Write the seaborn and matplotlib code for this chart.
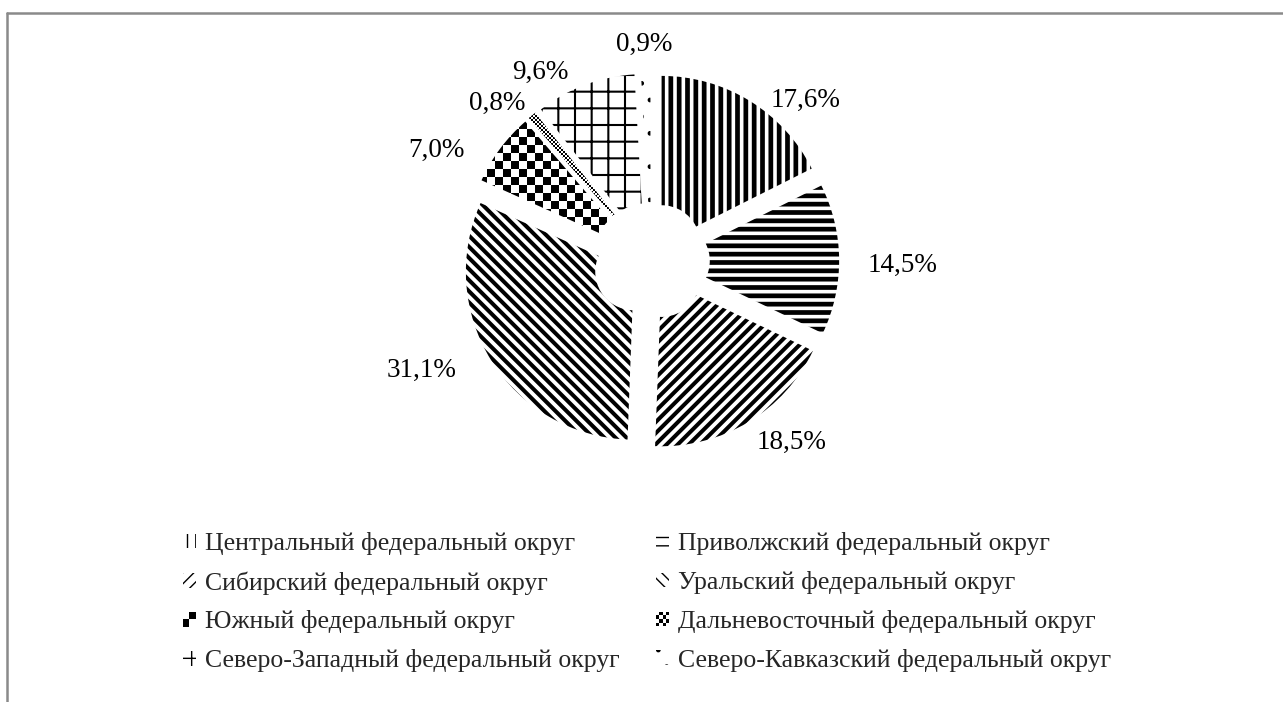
import numpy as np
import matplotlib.pyplot as plt
import matplotlib.patches as mpatches
from matplotlib.legend_handler import HandlerBase
from matplotlib.lines import Line2D
import seaborn as sns

# data
districts = ["Центральный федеральный округ", "Приволжский федеральный округ",
             "Сибирский федеральный округ", "Уральский федеральный округ",
             "Южный федеральный округ", "Дальневосточный федеральный округ",
             "Северо-Западный федеральный округ", "Северо-Кавказский федеральный округ"]
shares = [17.6, 14.5, 18.5, 31.1, 7.0, 0.8, 9.6, 0.9]

# styling per slice
hatches = ["||", "--", "///", "\\\\\\", None, None, "+", "."]
hatch_lw = [3.4, 3.4, 2.9, 2.9, 1.0, 1.0, 1.5, 1.0]
checker_cells = {4: 63, 5: 252}   # checkerboard fills (cells across the axes)
label_nudge = [(0.20, -0.21), (0.13, -0.04), (0.13, 0.09), (-0.20, 0.07),
               (-0.18, -0.16), (-0.05, -0.12), (-0.18, -0.16), (0.00, -0.08)]

sns.set_theme(style="white")
plt.rcParams["font.family"] = ["Liberation Serif", "DejaVu Serif"]
plt.rcParams["hatch.color"] = "black"

fig = plt.figure(figsize=(12.83, 7.02), dpi=100)
ax = fig.add_axes([0.311, 0.2692, 0.3928, 0.7179])

wedges, texts, autotexts = ax.pie(
    shares, startangle=90, counterclock=False, explode=[0.12] * len(shares),
    radius=1.0, pctdistance=1.25,
    autopct=lambda p: f"{p:.1f}%".replace(".", ","),
    wedgeprops=dict(width=0.77, linewidth=0, edgecolor="black", facecolor="white"),
    textprops=dict(fontsize=19.5, color="black"))

for i, w in enumerate(wedges):
    if hatches[i]:
        w.set_hatch(hatches[i])
        if hasattr(w, "set_hatch_linewidth"):
            w.set_hatch_linewidth(hatch_lw[i])

L = 1.5
for i, n in checker_cells.items():
    ii, jj = np.meshgrid(np.arange(n), np.arange(n))
    board = (ii + jj) % 2
    im = ax.imshow(board, extent=(-L, L, -L, L), cmap="gray_r",
                   interpolation="nearest", zorder=2, vmin=0, vmax=1)
    im.set_clip_path(wedges[i])

for t, (dx, dy) in zip(autotexts, label_nudge):
    x, y = t.get_position()
    t.set_position((x + dx, y + dy))
    t.set_ha("center")
    t.set_va("center")

ax.set_xlim(-L, L)
ax.set_ylim(-L, L)
ax.set_aspect("equal")
ax.axis("off")


class CheckerHandler(HandlerBase):
    def __init__(self, n):
        super().__init__()
        self.n = n

    def create_artists(self, legend, orig_handle, xdescent, ydescent,
                       width, height, fontsize, trans):
        arts = []
        cw, ch = width / self.n, height / self.n
        for a in range(self.n):
            for b in range(self.n):
                if (a + b) % 2 == 0:
                    arts.append(mpatches.Rectangle(
                        (-xdescent + a * cw, -ydescent + b * ch), cw, ch,
                        facecolor="black", linewidth=0, transform=trans))
        return arts


handles = []
hmap = {}
for i, name in enumerate(districts):
    h = mpatches.Patch(facecolor="white", edgecolor="black", linewidth=0,
                       hatch=hatches[i], label=name)
    if hatches[i] and hasattr(h, "set_hatch_linewidth"):
        h.set_hatch_linewidth(hatch_lw[i])
    if i in checker_cells:
        hmap[h] = CheckerHandler(2 if i == 4 else 4)
    handles.append(h)

order = list(range(0, 8, 2)) + list(range(1, 8, 2))
fig.legend([handles[k] for k in order], [districts[k] for k in order],
           handler_map=hmap, ncol=2, loc="upper left",
           bbox_to_anchor=(0.1426, 0.242), frameon=False, fontsize=18.5,
           handlelength=0.5, handleheight=0.5, handletextpad=0.35,
           columnspacing=1.43, labelspacing=0.62, borderpad=0, borderaxespad=0)

# outer frame (top and left edges only are visible)
fig.add_artist(Line2D([7 / 1283, 1.0], [1 - 13 / 702] * 2, color="#8a8a8a",
                      lw=1.8, transform=fig.transFigure))
fig.add_artist(Line2D([7 / 1283] * 2, [0.0, 1 - 13 / 702], color="#8a8a8a",
                      lw=1.8, transform=fig.transFigure))

fig.savefig("out.png", dpi=100, facecolor="white")
